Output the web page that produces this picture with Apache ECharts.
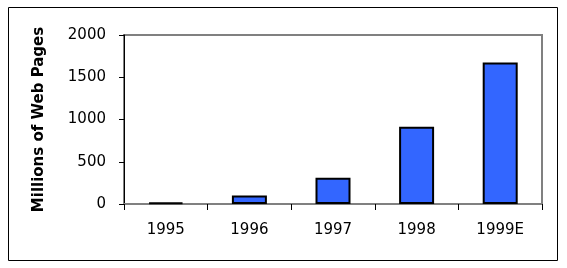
<!DOCTYPE html>
<html>
<head>
<meta charset="utf-8">
<script src="https://cdn.jsdelivr.net/npm/echarts@6/dist/echarts.min.js"></script>
<style>
html,body{margin:0;padding:0;background:#fff;}
#chart{width:567px;height:268px;}
</style>
</head>
<body>
<div id="chart"></div>
<script>
const categories = ['1995', '1996', '1997', '1998', '1999E'];
const webPages = [18, 100, 310, 915, 1675];
const yTicks = { min: 0, max: 2000, interval: 500 };
const yAxisTitle = 'Millions of Web Pages';

const chart = echarts.init(document.getElementById('chart'), null, { renderer: 'canvas' });
const font = '"DejaVu Sans", sans-serif';
chart.setOption({
  animation: false,
  backgroundColor: '#ffffff',
  graphic: [{
    type: 'rect',
    shape: { x: 8.5, y: 7.5, width: 549, height: 253 },
    style: { fill: 'none', stroke: '#000', lineWidth: 1 },
    silent: true
  }],
  grid: {
    left: 124, right: 25, top: 35, bottom: 64,
    show: true, borderColor: '#808080', borderWidth: 2, backgroundColor: 'transparent'
  },
  xAxis: {
    type: 'category',
    data: categories,
    boundaryGap: true,
    axisLine: { lineStyle: { color: '#808080', width: 2 } },
    axisTick: { show: true, length: 6, inside: false, alignWithLabel: false, lineStyle: { color: '#000', width: 1 } },
    axisLabel: { color: '#000', fontFamily: font, fontSize: 15, margin: 19 },
    splitLine: { show: false }
  },
  yAxis: {
    type: 'value',
    min: yTicks.min, max: yTicks.max, interval: yTicks.interval,
    name: yAxisTitle,
    nameLocation: 'middle',
    nameRotate: 90,
    nameGap: 77,
    nameTextStyle: { color: '#000', fontFamily: font, fontSize: 15, fontWeight: 'bold' },
    axisLine: { show: true, lineStyle: { color: '#000', width: 1 } },
    axisTick: { show: true, length: 5, inside: false, lineStyle: { color: '#000', width: 1 } },
    axisLabel: { color: '#000', fontFamily: font, fontSize: 15, margin: 18, formatter: function (v) { return String(v); } },
    splitLine: { show: false }
  },
  series: [{
    type: 'bar',
    data: webPages,
    barWidth: 35,
    itemStyle: { color: '#3366FF', borderColor: '#000', borderWidth: 2 }
  }]
});
</script>
</body>
</html>
